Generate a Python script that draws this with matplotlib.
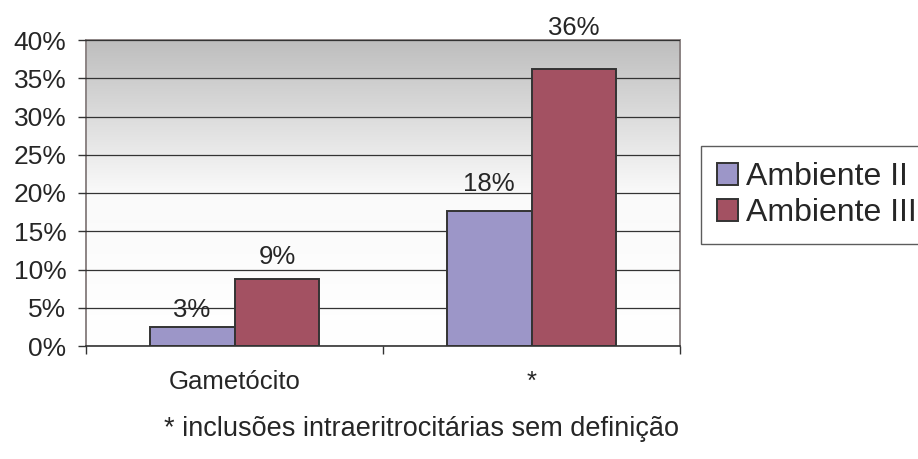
import numpy as np
import matplotlib
matplotlib.use("Agg")
import matplotlib.pyplot as plt
from matplotlib.colors import LinearSegmentedColormap

plt.rcParams['font.family'] = ['Liberation Sans', 'DejaVu Sans']

# data
categories = ["Gametócito", "*"]
series_names = ["Ambiente II", "Ambiente III"]
ambiente_ii = [2.5, 17.6]
ambiente_iii = [8.8, 36.2]
value_labels = [["3%", "18%"], ["9%", "36%"]]
y_ticks = [0, 5, 10, 15, 20, 25, 30, 35, 40]
footnote = "* inclusões intraeritrocitárias sem definição"

colors = ["#9C96C8", "#A35162"]
TXT = "#262626"

fig = plt.figure(figsize=(9.18, 4.59), dpi=100)
ax = fig.add_axes([86/918, 1 - 346/459, (680 - 86)/918, (346 - 40)/459])

# gradient background like the excel plot area
grad = LinearSegmentedColormap.from_list("bg", ["#FFFFFF", "#FAFAFA", "#BEBEBE"])
ax.imshow(np.linspace(0, 1, 256).reshape(-1, 1), cmap=grad, aspect="auto",
          extent=(0, 2, 0, 40), origin="lower", zorder=0)

x = np.arange(len(categories)) + 0.5
w = 2 / 7
for i, vals in enumerate([ambiente_ii, ambiente_iii]):
    pos = x - w/2 + i*w
    ax.bar(pos, vals, width=w, color=colors[i], edgecolor="#333333",
           linewidth=1.4, label=series_names[i], zorder=3)
    for xp, v, lab in zip(pos, vals, value_labels[i]):
        # excel pushes the labels further up the taller the bar
        ax.annotate(lab, (xp, v), xytext=(0, 5.8 + 0.52*v), textcoords="offset points",
                    ha="center", va="baseline", fontsize=18.5, color=TXT,
                    annotation_clip=False)

ax.set_xlim(0, 2)
ax.set_ylim(0, 40)
ax.set_yticks(y_ticks)
ax.set_yticklabels([f"{t}%" for t in y_ticks], fontsize=19, color=TXT)
ax.yaxis.grid(True, color="#333333", linewidth=0.9, zorder=1)
ax.set_axisbelow(False)
for g in ax.get_ygridlines():
    g.set_zorder(1)

ax.set_xticks([0, 1, 2])
ax.set_xticklabels([])
ax.set_xticks(x, minor=True)
ax.set_xticklabels(categories, minor=True, fontsize=18.5, color=TXT)
ax.tick_params(axis="x", which="major", length=6, width=1, color="#333333", direction="out")
ax.tick_params(axis="x", which="minor", length=0, pad=17)
ax.tick_params(axis="y", length=6, width=1, color="#333333", pad=8)

for s in ["left", "top", "right"]:
    ax.spines[s].set_color("#8C8484")
    ax.spines[s].set_linewidth(1.4)
ax.spines["bottom"].set_color("#333333")
ax.spines["bottom"].set_linewidth(1.2)
ax.spines["bottom"].set_zorder(4)

leg = fig.legend(loc="upper left", bbox_to_anchor=(701/918, 1 - 146/459),
                 fontsize=23, frameon=True, fancybox=False, handlelength=0.66,
                 handleheight=0.66, handletextpad=0.25, labelspacing=0.2,
                 borderpad=0.5, borderaxespad=0)
leg.get_frame().set_edgecolor("#333333")
leg.get_frame().set_linewidth(1.0)
for t in leg.get_texts():
    t.set_color(TXT)

fig.text(421/918, 1 - 429/459, footnote, ha="center", va="center",
         fontsize=19.5, color=TXT)

fig.savefig("out.png", dpi=100)
